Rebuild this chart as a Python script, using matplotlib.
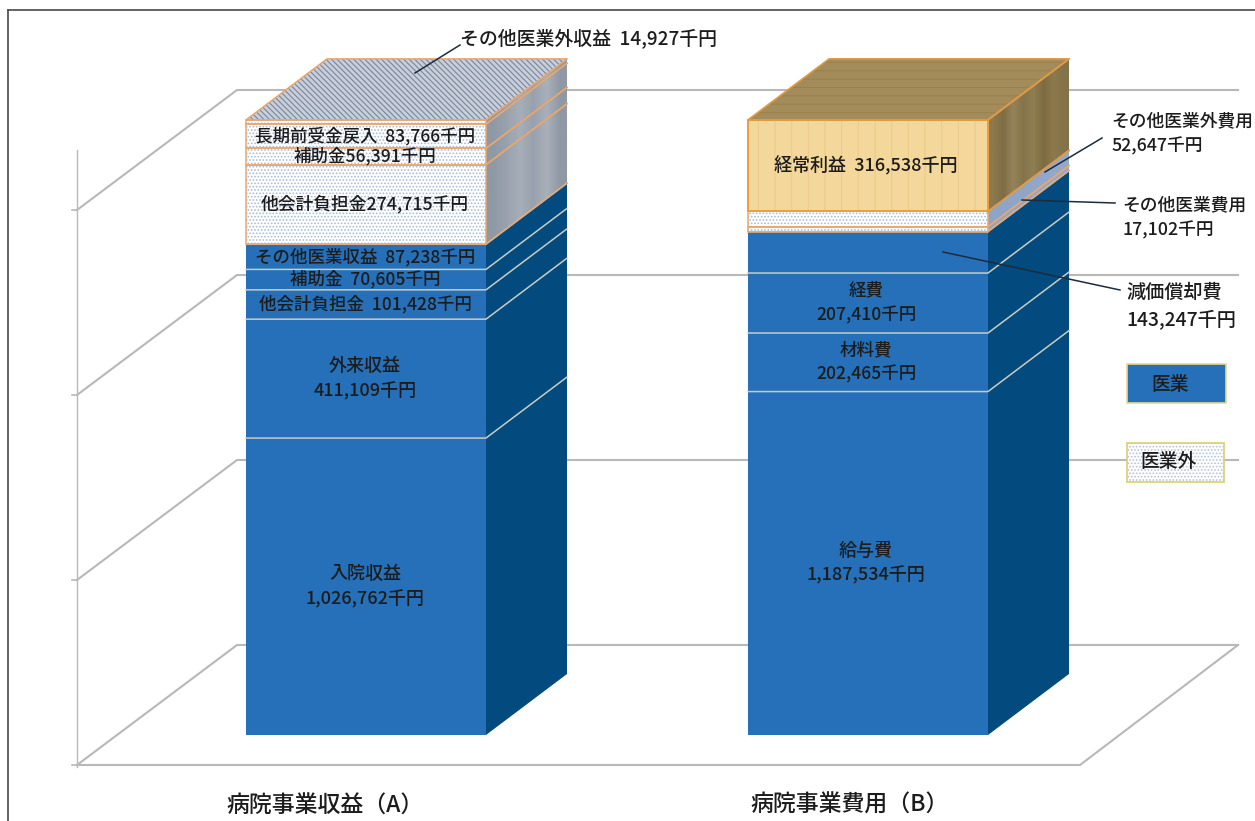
import matplotlib
matplotlib.use("Agg")
import matplotlib.pyplot as plt
from matplotlib.patches import Polygon, Rectangle
from matplotlib.colors import to_rgb
import numpy as np

plt.rcParams['font.family'] = ['Noto Sans CJK JP', 'DejaVu Sans']
plt.rcParams['hatch.linewidth'] = 0.8

# ---- data (thousand yen) ----
revenue_names = ['入院収益', '外来収益', '他会計負担金', '補助金', 'その他医業収益',
                 '他会計負担金', '補助金', '長期前受金戻入', 'その他医業外収益']
revenue_values = [1026762, 411109, 101428, 70605, 87238, 274715, 56391, 83766, 14927]
revenue_kinds = ['m', 'm', 'm', 'm', 'm', 'n', 'n', 'n', 'n']

cost_names = ['給与費', '材料費', '経費', '減価償却費', 'その他医業費用',
              'その他医業外費用', '経常利益']
cost_values = [1187534, 202465, 207410, 143247, 17102, 52647, 316538]
cost_kinds = ['m', 'm', 'm', 'm', 'n', 'n', 'p']

bar_titles = ['病院事業収益（A）', '病院事業費用（B）']
legend_labels = ['医業', '医業外']

# ---- style / layout ----
W, H = 1255, 821
BASE = 735.0           # pixel row of value zero
SCALE = 0.0002892      # pixels per thousand yen
DEPTH_X, DEPTH_Y = 81, 61
BAR_W = 240
X_A, X_B = 246, 748
BLUE, BLUE_DK = '#2570B8', '#034A7E'
EDGE_M, EDGE_N = '#C8CCC0', '#E9A66C'
GRID = '#B8B8B8'
INK = '#1c1c1c'
GREY_BANDS = ['#8F98A5', '#98A1AD', '#A6AEB8', '#98A1AD', '#A9B0BA', '#8F98A5']
WOOD_SIDE = ['#8C7A4E', '#7F6E45', '#94825A', '#85744A', '#907E52', '#7D6C42', '#8C7A4E', '#83724A']
BLUE_BANDS = ['#8EA4C8', '#93A8CA']


def vy(p):
    """pixel row -> value"""
    return (BASE - p) / SCALE


fig = plt.figure(figsize=(W / 100, H / 100), dpi=100, facecolor='white')
ax = fig.add_axes([0, 0, 1, 1])
ax.set_xlim(0, W)
ax.set_ylim(vy(H), vy(0))
ax.axis('off')
XLIM, YLIM = ax.get_xlim(), ax.get_ylim()

# outer frame
ax.plot([7.5, 7.5], [vy(H), vy(10)], color='#484848', lw=1.2, zorder=1)
ax.plot([7.5, W], [vy(10), vy(10)], color='#484848', lw=1.2, zorder=1)

# 3-D wall grid
for row in [645, 460, 275, 90]:
    front = row + 120
    ax.plot([77, 237, 1238], [vy(front), vy(row), vy(row)], color=GRID, lw=1.5, zorder=1)
    ax.plot([72, 77], [vy(front), vy(front)], color=GRID, lw=1.2, zorder=1)
ax.plot([77, 77], [vy(767), vy(150)], color=GRID, lw=1.0, zorder=1)
ax.plot([77, 1080, 1238], [vy(765), vy(765), vy(645)], color=GRID, lw=1.5, zorder=1)


def shear(x0, v0, v1, w=BAR_W):
    dv = DEPTH_Y / SCALE
    return [(x0 + w, v0), (x0 + w + DEPTH_X, v0 + dv), (x0 + w + DEPTH_X, v1 + dv), (x0 + w, v1)]


def textured(poly_pts, bands, zorder=3):
    """polygon filled with vertical colour bands"""
    patch = Polygon(poly_pts, fc='none', ec='none', zorder=zorder)
    ax.add_patch(patch)
    xs = [p[0] for p in poly_pts]
    ys = [p[1] for p in poly_pts]
    img = np.array([[to_rgb(c) for c in bands]])
    im = ax.imshow(img, extent=[min(xs), max(xs), min(ys), max(ys)], aspect='auto',
                   interpolation='bilinear', zorder=zorder)
    im.set_clip_path(patch)


def draw_stack(x0, values, kinds, nbands):
    bottoms = np.concatenate([[0], np.cumsum(values)[:-1]])
    dv = DEPTH_Y / SCALE
    for v, b, k in zip(values, bottoms, kinds):
        t = b + v
        if k == 'm':
            ax.bar(x0, v, BAR_W, bottom=b, align='edge', color=BLUE, lw=0, zorder=3)
            ax.add_patch(Polygon(shear(x0, b, t), fc=BLUE_DK, ec='none', zorder=3))
            ax.plot([x0, x0 + BAR_W, x0 + BAR_W + DEPTH_X], [t, t, t + dv], color=EDGE_M, lw=1.1, zorder=4)
        elif k == 'n':
            ax.bar(x0, v, BAR_W, bottom=b, align='edge', color='white', edgecolor='#A9BBD6',
                   hatch='.....', lw=0, zorder=3)
            ax.bar(x0, v, BAR_W, bottom=b, align='edge', fill=False, edgecolor=EDGE_N, lw=1.1, zorder=4)
            textured(shear(x0, b, t), nbands)
            ax.plot([x0 + BAR_W, x0 + BAR_W + DEPTH_X], [t, t + dv], color=EDGE_N, lw=1.1, zorder=4)
            ax.plot([x0 + BAR_W, x0 + BAR_W + DEPTH_X], [b, b + dv], color=EDGE_N, lw=1.1, zorder=4)
        else:
            ax.bar(x0, v, BAR_W, bottom=b, align='edge', color='#F3D79B', edgecolor='#EBCB8A',
                   hatch='|', lw=0, zorder=3)
            ax.bar(x0, v, BAR_W, bottom=b, align='edge', fill=False, edgecolor='#E9A03C', lw=1.4, zorder=4)
            textured(shear(x0, b, t), WOOD_SIDE)
            ax.plot([x0 + BAR_W, x0 + BAR_W + DEPTH_X], [t, t + dv], color='#E09A45', lw=1.3, zorder=5)
            ax.plot([x0 + BAR_W, x0 + BAR_W + DEPTH_X], [b, b + dv], color='#E09A45', lw=1.3, zorder=5)
    top = bottoms[-1] + values[-1]
    roof = [(x0, top), (x0 + BAR_W, top), (x0 + BAR_W + DEPTH_X, top + dv), (x0 + DEPTH_X, top + dv)]
    if kinds[-1] == 'p':
        ax.add_patch(Polygon(roof, fc='#A38C5A', ec='#98824F', hatch='--', lw=0, zorder=4))
        ax.add_patch(Polygon(roof, fill=False, ec='#E09A45', lw=1.2, zorder=5))
    else:
        ax.add_patch(Polygon(roof, fc='#C8CFDA', ec='#78869B', hatch='\\\\\\\\\\\\', lw=0, zorder=4))
        ax.add_patch(Polygon(roof, fill=False, ec=EDGE_N, lw=1.1, zorder=5))
    return bottoms


bot_a = draw_stack(X_A, revenue_values, revenue_kinds, GREY_BANDS)
bot_b = draw_stack(X_B, cost_values, cost_kinds, BLUE_BANDS)
ax.set_xlim(XLIM)
ax.set_ylim(YLIM)


def seg_mid(bottoms, values, i):
    return bottoms[i] + values[i] / 2


def fmt(v):
    return f'{v:,}千円'


def label(x, y, s, fs=12.8, **kw):
    ax.text(x, y, s, ha=kw.pop('ha', 'center'), va='center', fontsize=fs, color=INK, zorder=8,
            linespacing=kw.pop('ls', 1.45), fontweight='medium', clip_on=True, **kw)


# revenue labels
cx = X_A + 119
label(cx, seg_mid(bot_a, revenue_values, 0), f'{revenue_names[0]}\n{fmt(revenue_values[0])}', fs=13)
label(cx, seg_mid(bot_a, revenue_values, 1), f'{revenue_names[1]}\n{fmt(revenue_values[1])}', fs=13)
for i in [2, 3, 4, 7]:
    label(cx, seg_mid(bot_a, revenue_values, i), f'{revenue_names[i]}  {fmt(revenue_values[i])}', fs=12.6)
label(cx, seg_mid(bot_a, revenue_values, 5), f'{revenue_names[5]}{fmt(revenue_values[5])}', fs=12.8)
label(cx, seg_mid(bot_a, revenue_values, 6), f'{revenue_names[6]}{fmt(revenue_values[6])}', fs=12.6)
label(588, vy(38), f'{revenue_names[8]}  {fmt(revenue_values[8])}', fs=13.6)

# cost labels
cx = X_B + 118
label(cx, seg_mid(bot_b, cost_values, 0), f'{cost_names[0]}\n{fmt(cost_values[0])}', fs=13)
label(cx, seg_mid(bot_b, cost_values, 1), f'{cost_names[1]}\n{fmt(cost_values[1])}', fs=12.6)
label(cx, seg_mid(bot_b, cost_values, 2), f'{cost_names[2]}\n{fmt(cost_values[2])}', fs=12.6)
label(cx, seg_mid(bot_b, cost_values, 6), f'{cost_names[6]}  {fmt(cost_values[6])}', fs=13)
label(1111, vy(134), f'{cost_names[5]}\n{fmt(cost_values[5])}', fs=12.8, ha='left')
label(1122, vy(218), f'{cost_names[4]}\n{fmt(cost_values[4])}', fs=12.8, ha='left')
label(1126, vy(306), f'{cost_names[3]}\n{fmt(cost_values[3])}', fs=13.8, ha='left')

# leader lines
for (x0, p0), (x1, p1) in [((415, 73), (460, 45)), ((1045, 172), (1102, 138)),
                           ((1022, 200), (1115, 203)), ((943, 252), (1120, 290))]:
    ax.plot([x0, x1], [vy(p0), vy(p1)], color='#1c2c3c', lw=1.1, zorder=9)

# legend boxes
ax.add_patch(Rectangle((1127, vy(403)), 99, vy(364) - vy(403), fc=BLUE, ec='#E6D98A', lw=1.2, zorder=6))
label(1170, vy(384), legend_labels[0], fs=13.5)
ax.add_patch(Rectangle((1127, vy(482)), 97, vy(443) - vy(482), fc='white', ec='#B4C2DA',
                       hatch='.....', lw=0, zorder=6))
ax.add_patch(Rectangle((1127, vy(482)), 97, vy(443) - vy(482), fill=False, ec='#DDD27A', lw=1.3, zorder=7))
label(1168, vy(461), legend_labels[1], fs=13.5)

# category titles
label(325, vy(806), bar_titles[0], fs=16.5)
label(850, vy(805), bar_titles[1], fs=16.5)

fig.savefig('out.png', dpi=100)
